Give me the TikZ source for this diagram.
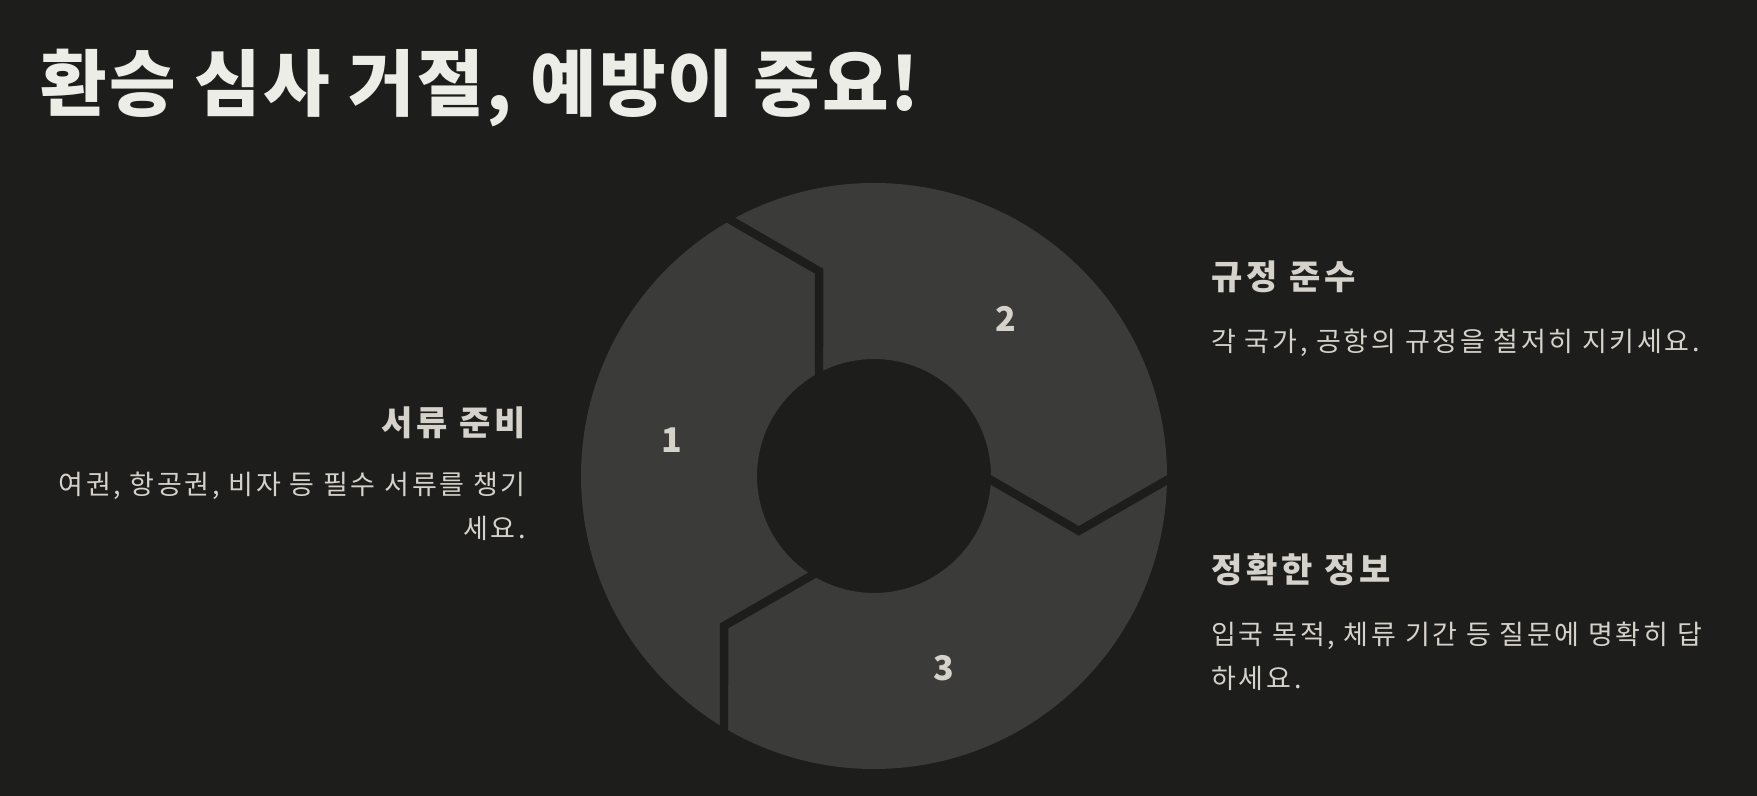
\documentclass[tikz,border=0pt]{standalone}
\usepackage{fontspec}
\setmainfont{Noto Sans CJK KR}
\newfontfamily\titlefont{Noto Sans CJK KR}[LetterSpace=3]
\newfontfamily\headfont{Noto Sans CJK KR}[LetterSpace=11]
\newfontfamily\bodyfont{Noto Sans CJK KR}[LetterSpace=10]
\usetikzlibrary{positioning, calc}
\definecolor{bg}{HTML}{1D1D1B}
\definecolor{ring}{HTML}{3B3B39}
\definecolor{ink}{HTML}{EDEDE7}
\definecolor{soft}{HTML}{D4D2CA}
\tikzset{
  head/.style={inner sep=0pt, font=\headfont\fontsize{17}{20}\selectfont\bfseries, text=soft},
  body/.style={inner sep=0pt, font=\bodyfont\fontsize{13.5}{22}\selectfont, text=soft},
  num/.style={font=\fontsize{17}{20}\selectfont\bfseries, text=soft},
  cut/.style={draw=bg, line width=4.2pt},
}
\begin{document}
\begin{tikzpicture}[x=0.5pt, y=0.5pt]
  \fill[bg] (0,0) rectangle (1757,796);
  \useasboundingbox (0,0) rectangle (1757,796);
  \node[inner sep=0pt, anchor=north west, font=\titlefont\fontsize{36.2}{42}\selectfont\bfseries, text=ink] (title) at (40,747.7) {환승 심사 거절, 예방이 중요!};

  % ring with three arrow-shaped parts
  \coordinate (c) at (874,320);
  \fill[ring, even odd rule] (c) circle[radius=293] (c) circle[radius=117];
  \foreach \a in {120, 0, 240}
    \draw[cut] ($(c)+(\a:110)$) -- ($(c)+({\a-15}:212)$) -- ($(c)+(\a:300)$);
  \foreach \n/\a in {1/170, 2/50, 3/290}
    \node[num] (n\n) at ($(c)+(\a:205)$) {\n};

  % left
  \node[head, anchor=north east] (docs) at (526,389.3) {서류 준비};
  \node[body, align=right, below=16pt of docs.south east, anchor=north east] (docsText) {여권, 항공권, 비자 등 필수 서류를 챙기\\세요.};

  % right
  \node[head, anchor=north west] (rules) at (1211,536) {규정 준수};
  \node[body, align=left, below=18pt of rules.south west, anchor=north west] (rulesText) {각 국가, 공항의 규정을 철저히 지키세요.};
  \node[head, anchor=north west] (info) at (1211,243) {정확한 정보};
  \node[body, align=left, below=18pt of info.south west, anchor=north west] (infoText) {입국 목적, 체류 기간 등 질문에 명확히 답\\하세요.};
\end{tikzpicture}
\end{document}
